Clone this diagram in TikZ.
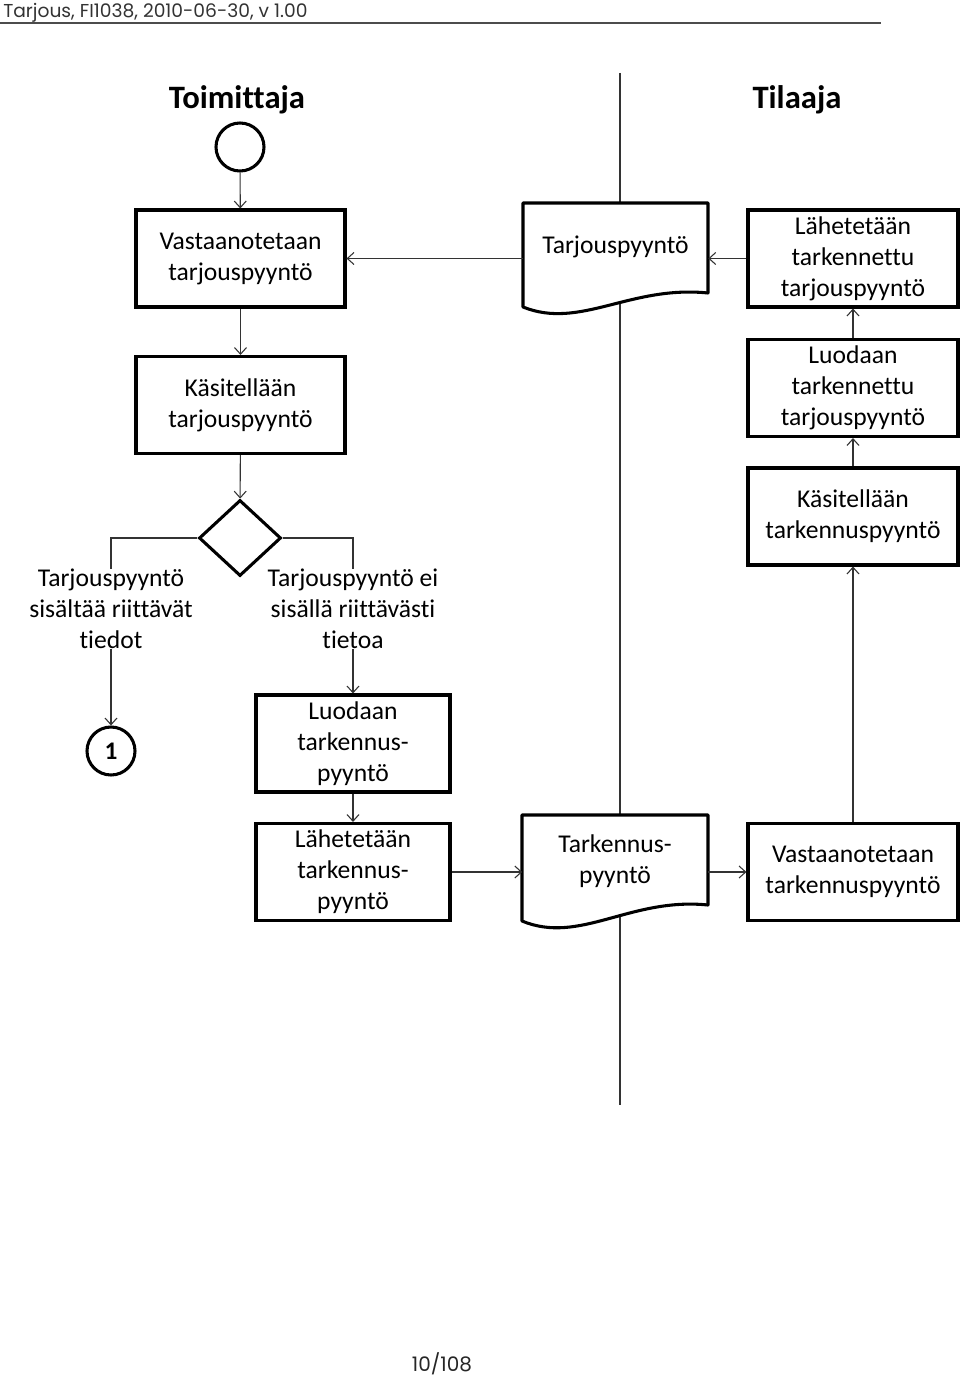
\documentclass[tikz,border=0pt]{standalone}
\usepackage{fontspec}
\setmainfont[Ligatures=NoCommon]{Carlito}
\newfontfamily\hdrfont{Poppins}
\usetikzlibrary{arrows.meta,shapes.geometric,calc}
\begin{document}
\begin{tikzpicture}[x=0.75pt,y=-0.75pt,
  txt/.style={font=\fontsize{19.2}{23.25}\selectfont},
  box/.style={txt,draw=black,line width=2.3pt,minimum width=156.75pt,minimum height=72.75pt,inner sep=0pt,align=center},
  nbox/.style={box,minimum width=145.5pt},
  lbl/.style={txt,align=center,inner sep=0pt},
  docarea/.style={minimum width=138.75pt,minimum height=78pt,inner sep=0pt},
  docline/.style={draw=black,fill=white,line width=2.3pt,line join=round},
  conn/.style={draw=black!80,line width=0.8pt,-{Straight Barb[length=5pt,width=9pt]}},
  plain/.style={draw=black!80,line width=0.8pt},
  circ/.style={circle,draw=black,line width=2.3pt,minimum size=36pt,inner sep=0pt},
  title/.style={font=\bfseries\fontsize{24.5}{28}\selectfont}
]
\useasboundingbox (0,0) rectangle (960,1377);
\fill[white] (0,0) rectangle (960,1377);

% header
\node[anchor=base west,font=\hdrfont\fontsize{14}{16}\selectfont,text=black!80,inner sep=0pt] (hdr) at (3,18) {Tarjous, FI1038, 2010-06-30, v 1.00};
\coordinate (hl) at (0,23);
\coordinate (hr) at (881,23);
\draw[black!70,line width=1pt] (hl) -- (hr);

% titles
\node[title] (toim) at (237,100) {Toimittaja};
\node[title] (til) at (797,100) {Tilaaja};

% divider
\coordinate (dtop) at (620,73);
\coordinate (dbot) at (620,1105);
\draw[plain] (dtop) -- (dbot);

% left column
\node[circ] (start) at (240,147) {};
\node[box] (b1) at (240.5,258.5) {Vastaanotetaan\\tarjouspyyntö};
\node[box] (b2) at (240.5,405) {Käsitellään\\tarjouspyyntö};
\node[diamond,draw=black,line width=2.3pt,minimum width=61.5pt,minimum height=57pt,inner sep=0pt] (dia) at (240,538) {};
\node[lbl] (lblL) at (111,609) {Tarjouspyyntö\\sisältää riittävät\\tiedot};
\node[lbl] (lblR) at (353,609) {Tarjouspyyntö ei\\sisällä riittävästi\\tietoa};
\node[circ,font=\bfseries\fontsize{19}{23}\selectfont] (c1) at (111,751) {1};
\node[nbox] (b3) at (353,743.5) {Luodaan\\tarkennus-\\pyyntö};
\node[nbox] (b4) at (353,872) {Lähetetään\\tarkennus-\\pyyntö};

% documents
\node[docarea] (doc1) at (615.5,255) {};
\draw[docline] (523,203) -- (708,203) -- (708,293) .. controls (630,285) and (580,330) .. (523,307) -- cycle;
\node[lbl] (doc1t) at (615.5,247) {Tarjouspyyntö};
\node[docarea] (doc2) at (615,868) {};
\draw[docline] (522,815) -- (708,815) -- (708,905) .. controls (630,897) and (580,945) .. (522,921) -- cycle;
\node[lbl] (doc2t) at (615,861) {Tarkennus-\\pyyntö};

% right column
\node[box,minimum width=157.5pt] (rb1) at (853,258.5) {Lähetetään\\tarkennettu\\tarjouspyyntö};
\node[box,minimum width=157.5pt] (rb2) at (853,388) {Luodaan\\tarkennettu\\tarjouspyyntö};
\node[box,minimum width=157.5pt] (rb3) at (853,516.5) {Käsitellään\\tarkennuspyyntö};
\node[box,minimum width=157.5pt] (rb4) at (853,872) {Vastaanotetaan\\tarkennuspyyntö};

% connectors
\draw[conn] (start) -- (b1);
\draw[conn] (b1) -- (b2);
\draw[conn] (b2) -- (dia);
\draw[plain] (dia.west) -| (lblL.north);
\draw[plain] (dia.east) -| (lblR.north);
\draw[conn] (lblL.south) -- (c1.north);
\draw[conn] (lblR.south) -- (b3.north);
\draw[conn] (b3) -- (b4);
\draw[conn] (b4.east) -- (b4.east -| doc2.west);
\draw[conn] (rb4.west -| doc2.east) -- (rb4.west);
\draw[conn] (rb4) -- (rb3);
\draw[conn] (rb3) -- (rb2);
\draw[conn] (rb2) -- (rb1);
\draw[conn] (rb1.west) -- (rb1.west -| doc1.east);
\draw[conn] (b1.east -| doc1.west) -- (b1.east);

% footer
\node[font=\hdrfont\fontsize{15}{17}\selectfont,text=black!85] (ftr) at (442,1364) {10/108};
\end{tikzpicture}
\end{document}
